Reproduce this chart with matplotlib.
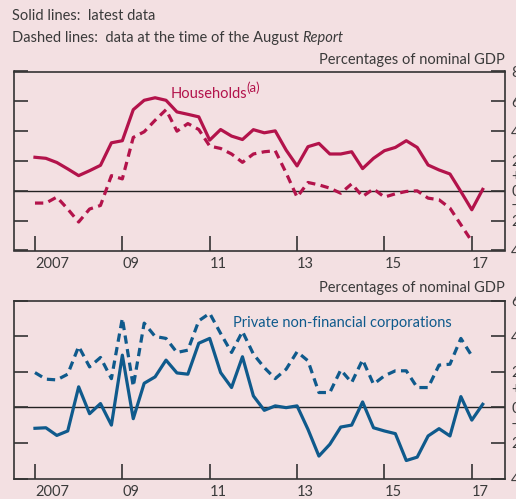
import numpy as np
import matplotlib.pyplot as plt

# quarterly data, 2007 Q1 onwards (percentages of nominal GDP)
quarters = 2007 + 0.25 * np.arange(42)

hh_latest = [2.25, 2.18, 1.9, 1.47, 1.02, 1.35, 1.71, 3.22, 3.36, 5.44,
             6.07, 6.24, 6.07, 5.29, 5.13, 4.96, 3.4, 4.11, 3.67, 3.44,
             4.1, 3.89, 4.02, 2.73, 1.67, 2.96, 3.18, 2.47, 2.47, 2.62,
             1.49, 2.18, 2.69, 2.91, 3.36, 2.91, 1.73, 1.4, 1.13, -0.05,
             -1.27, 0.1]
hh_august = [-0.82, -0.82, -0.42, -1.22, -2.09, -1.22, -0.98, 1.02, 0.8, 3.58,
             3.96, 4.73, 5.44, 4.0, 4.51, 4.11, 3.0, 2.84, 2.47, 1.91,
             2.47, 2.62, 2.69, 1.2, -0.42, 0.56, 0.4, 0.18, -0.16, 0.47,
             -0.38, 0.13, -0.42, -0.2, -0.04, 0.0, -0.49, -0.6, -1.16, -2.27,
             -3.38]

pnfc_latest = [-1.18, -1.15, -1.58, -1.33, 1.15, -0.36, 0.21, -1.0, 2.93, -0.64,
               1.35, 1.71, 2.65, 1.93, 1.86, 3.6, 3.87, 1.95, 1.11, 2.84,
               0.64, -0.17, 0.08, -0.02, 0.08, -1.24, -2.74, -2.08, -1.11, -1.0,
               0.3, -1.15, -1.33, -1.48, -2.99, -2.8, -1.61, -1.2, -1.61, 0.6,
               -0.72, 0.17]
pnfc_august = [1.95, 1.58, 1.54, 1.86, 3.42, 2.27, 2.8, 1.61, 5.0, 1.17,
               4.73, 3.98, 3.87, 3.08, 3.21, 4.86, 5.28, 4.15, 3.08, 4.26,
               2.99, 2.23, 1.61, 2.14, 3.12, 2.61, 0.83, 0.83, 2.1, 1.39,
               2.67, 1.3, 1.77, 2.05, 2.05, 1.11, 1.11, 2.37, 2.42, 3.87,
               2.89]

year_ticks = [2007, 2009, 2011, 2013, 2015, 2017]
year_labels = ['2007', '09', '11', '13', '15', '17']

BG = '#f3e0e2'
INK = '#3a3a3a'
RED = '#b3134b'
BLUE = '#0f5a8c'

plt.rcParams['font.family'] = ['Lato', 'DejaVu Sans']
plt.rcParams['font.size'] = 10.5
plt.rcParams['text.color'] = INK

W, H = 516, 499
fig = plt.figure(figsize=(W / 100, H / 100), dpi=100)
fig.patch.set_facecolor(BG)


def px_box(x0, y0, x1, y1):
    return [x0 / W, 1 - y1 / H, (x1 - x0) / W, (y1 - y0) / H]


def setup(ax, ylo, yhi, ylabels):
    ax.set_facecolor(BG)
    ax.set_xlim(2006.52, 2017.76)
    ax.set_ylim(ylo, yhi)
    for s in ax.spines.values():
        s.set_color('#333333')
        s.set_linewidth(1.2)
    ax.axhline(0, color='#222222', lw=1.0, zorder=1)
    ax.set_xticks(year_ticks)
    ax.set_xticklabels(year_labels)
    for lab in ax.get_xticklabels():
        lab.set_ha('left')
    ax.tick_params(axis='x', direction='in', length=10.5, width=1.2,
                   color='#333333', pad=5, labelcolor=INK)
    ax.set_yticks(np.arange(ylo, yhi + 1, 2))
    ax.set_yticklabels(ylabels)
    ax.tick_params(axis='y', direction='in', length=10, width=1.2,
                   color='#333333', left=True, right=True,
                   labelleft=False, labelright=True, pad=4.5, labelcolor=INK)
    ax.text(1.012, 1, '+', transform=ax.get_yaxis_transform(),
            va='center', ha='left', color=INK)
    ax.text(1.012, -1, '\u2013', transform=ax.get_yaxis_transform(),
            va='center', ha='left', color=INK)


DASH = (2.6, 1.7)

# top panel: households
ax1 = fig.add_axes(px_box(14, 71.5, 505, 250.5))
setup(ax1, -4, 8, ['4', '2', '0', '2', '4', '6', '8'])
ax1.plot(quarters, hh_latest, color=RED, lw=2.3, zorder=3)
ax1.plot(quarters[:len(hh_august)], hh_august, color=RED, lw=2.3,
         dashes=DASH, zorder=3)
fig.text(171 / W, 1 - 94 / H, 'Households', color=RED, va='center', ha='left')
fig.text(246 / W, 1 - 88 / H, '(a)', color=RED, va='center', ha='left', fontsize=9.5)

# bottom panel: private non-financial corporations
ax2 = fig.add_axes(px_box(14, 300.5, 505, 478.5))
setup(ax2, -4, 6, ['4', '2', '0', '2', '4', '6'])
ax2.plot(quarters, pnfc_latest, color=BLUE, lw=2.3, zorder=3)
ax2.plot(quarters[:len(pnfc_august)], pnfc_august, color=BLUE, lw=2.3,
         dashes=DASH, zorder=3)
fig.text(233 / W, 1 - 323 / H, 'Private non-financial corporations',
         color=BLUE, va='center', ha='left')

# headers
fig.text(12 / W, 1 - 16 / H, 'Solid lines:  latest data', va='center', ha='left')
t = fig.text(12 / W, 1 - 38 / H, 'Dashed lines:  data at the time of the August ',
             va='center', ha='left')
fig.canvas.draw()
bb = t.get_window_extent().transformed(fig.transFigure.inverted())
fig.text(bb.x1, 1 - 38 / H, 'Report', style='italic', va='center', ha='left')
fig.text(505 / W, 1 - 60 / H, 'Percentages of nominal GDP', va='center', ha='right')
fig.text(505 / W, 1 - 288 / H, 'Percentages of nominal GDP', va='center', ha='right')

fig.savefig('out.png', dpi=100, facecolor=BG)
